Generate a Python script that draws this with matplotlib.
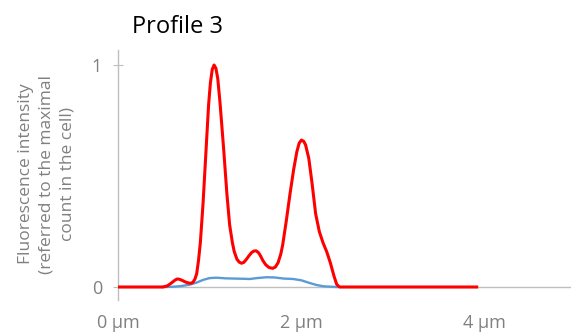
import matplotlib
matplotlib.use("Agg")
import matplotlib.pyplot as plt

# intensity profile along the cell, normalised to the maximal count
red_x = [0.0, 0.49, 0.54, 0.59, 0.62, 0.645, 0.67, 0.70, 0.74, 0.77, 0.80,
         0.82, 0.84, 0.86, 0.88, 0.90, 0.93, 0.96, 0.99, 1.01, 1.03, 1.05,
         1.07, 1.09, 1.115, 1.155, 1.19, 1.22, 1.25, 1.27, 1.30, 1.325,
         1.35, 1.375, 1.40, 1.43, 1.46, 1.485, 1.51, 1.535, 1.555, 1.585,
         1.615, 1.65, 1.69, 1.72, 1.75, 1.78, 1.80, 1.84, 1.88, 1.92,
         1.955, 1.98, 2.005, 2.03, 2.05, 2.085, 2.12, 2.16, 2.20, 2.24,
         2.28, 2.32, 2.36, 2.39, 2.42, 3.92]
red_y = [0.0, 0.0, 0.005, 0.02, 0.03, 0.036, 0.035, 0.03, 0.022, 0.018, 0.017,
         0.022, 0.035, 0.06, 0.12, 0.2, 0.38, 0.6, 0.82, 0.92, 0.98, 1.0,
         0.985, 0.94, 0.83, 0.62, 0.42, 0.28, 0.2, 0.16, 0.125, 0.112,
         0.107, 0.111, 0.123, 0.14, 0.155, 0.162, 0.163, 0.155, 0.142, 0.118,
         0.1, 0.088, 0.084, 0.09, 0.11, 0.15, 0.19, 0.3, 0.42, 0.53,
         0.61, 0.648, 0.662, 0.656, 0.64, 0.58, 0.47, 0.33, 0.25, 0.2,
         0.16, 0.11, 0.05, 0.012, 0.0, 0.0]

blue_x = [0.49, 0.59, 0.685, 0.78, 0.86, 0.93, 1.0, 1.075, 1.175, 1.27,
          1.37, 1.44, 1.515, 1.625, 1.71, 1.81, 1.915, 2.005, 2.095, 2.17,
          2.25, 2.39]
blue_y = [0.0, 0.001, 0.004, 0.01, 0.02, 0.032, 0.04, 0.042, 0.039, 0.038,
          0.037, 0.036, 0.04, 0.044, 0.043, 0.038, 0.036, 0.03, 0.018, 0.009,
          0.003, 0.0]

x_ticks = [0, 2, 4]
x_labels = ["0 µm", "2 µm", "4 µm"]
y_ticks = [0, 1]
y_labels = ["0", "1"]

GREY = "#808080"
AXIS = "#BFBFBF"
plt.rcParams["font.family"] = ["Open Sans", "DejaVu Sans"]

fig = plt.figure(figsize=(5.71, 3.34), dpi=100)
ax = fig.add_axes([118 / 571, 34 / 334, 453 / 571, 250 / 334])

ax.plot(blue_x, blue_y, color="#5B9BD5", lw=1.7, solid_joinstyle="round", zorder=3)
ax.plot(red_x, red_y, color="#FF0000", lw=2.2, solid_joinstyle="round", zorder=4)
ax.axhline(0, color=AXIS, lw=1.0, zorder=1)

ax.set_xlim(0, 453 / 91.5)
ax.set_ylim(-13 / 222, 237 / 222)

for s in ["top", "right", "bottom"]:
    ax.spines[s].set_visible(False)
ax.spines["left"].set_color(AXIS)
ax.spines["left"].set_linewidth(1.0)

ax.set_xticks(x_ticks)
ax.set_xticklabels(x_labels)
ax.tick_params(axis="x", length=0, pad=10, labelsize=13, labelcolor=GREY)
ax.set_yticks(y_ticks)
ax.set_yticklabels(y_labels)
ax.tick_params(axis="y", direction="inout", length=7, width=0.8, color=AXIS,
               pad=8, labelsize=13, labelcolor=GREY)

fig.text(47 / 571, 1 - 174 / 334, "Fluorescence intensity\n(referred to the maximal\ncount in the cell)",
         rotation=90, ha="center", va="center", multialignment="center",
         fontsize=12.5, color=GREY, linespacing=1.4)

fig.text(177 / 571, 1 - 27 / 334, "Profile 3", ha="center", va="center",
         fontsize=17, color="black")

fig.savefig("out.png", dpi=100)
